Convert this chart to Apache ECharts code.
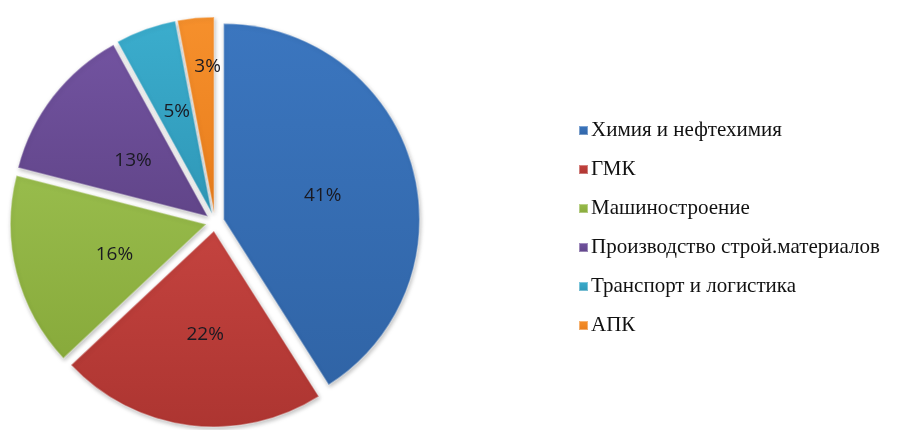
<!DOCTYPE html>
<html>
<head>
<meta charset="utf-8">
<script src="https://cdn.jsdelivr.net/npm/echarts@6/dist/echarts.min.js"></script>
<style>
  html, body { margin: 0; padding: 0; background: #fff; }
  #chart { width: 902px; height: 430px; }
</style>
</head>
<body>
<div id="chart"></div>
<script>
var categories = ['Химия и нефтехимия', 'ГМК', 'Машиностроение', 'Производство строй.материалов', 'Транспорт и логистика', 'АПК']
var shares = [41, 22, 16, 13, 5, 3]
var topColors = ['#3b76bf', '#c4433f', '#98bc4c', '#7253a0', '#3badcd', '#f6902c']
var bottomColors = ['#3064a6', '#ad3531', '#88aa3b', '#614589', '#2f97b7', '#e87d1c']
// small nudges so the percent labels sit where the original puts them
var labelShift = [[2, 4], [4, 3], [6, 5], [5, 6], [-1, -7], [3, -46]]

function grad(i) {
  return new echarts.graphic.LinearGradient(0, 0, 0, 1, [
    { offset: 0, color: topColors[i] },
    { offset: 1, color: bottomColors[i] }
  ])
}

var chart = echarts.init(document.getElementById('chart'), null, { renderer: 'canvas' })

chart.setOption({
  animation: false,
  legend: {
    orient: 'vertical',
    left: 578,
    top: 120,
    padding: 0,
    icon: 'rect',
    itemWidth: 9,
    itemHeight: 9,
    itemGap: 18,
    selectedMode: false,
    textStyle: {
      fontFamily: 'Liberation Serif',
      fontSize: 21,
      lineHeight: 20,
      color: '#111',
      padding: [0, 0, 0, -2]
    },
    data: categories
  },
  series: [{
    type: 'pie',
    center: [215, 222],
    radius: [0, 196],
    startAngle: 90,
    clockwise: true,
    selectedMode: 'multiple',
    selectedOffset: 9,
    silent: true,
    itemStyle: {
      borderWidth: 1.5,
      borderColor: 'rgba(255,255,255,0.35)',
      shadowColor: 'rgba(0,0,0,0.25)',
      shadowBlur: 4,
      shadowOffsetX: 1,
      shadowOffsetY: 2
    },
    label: {
      position: 'inside',
      formatter: '{d}%',
      fontFamily: 'Open Sans',
      fontSize: 19,
      color: '#1a1a22'
    },
    labelLine: { show: false },
    labelLayout: function (p) {
      var s = labelShift[p.dataIndex]
      return { dx: s[0], dy: s[1] }
    },
    data: categories.map(function (name, i) {
      return { name: name, value: shares[i], selected: true, itemStyle: { color: grad(i) } }
    })
  }]
})
</script>
</body>
</html>
